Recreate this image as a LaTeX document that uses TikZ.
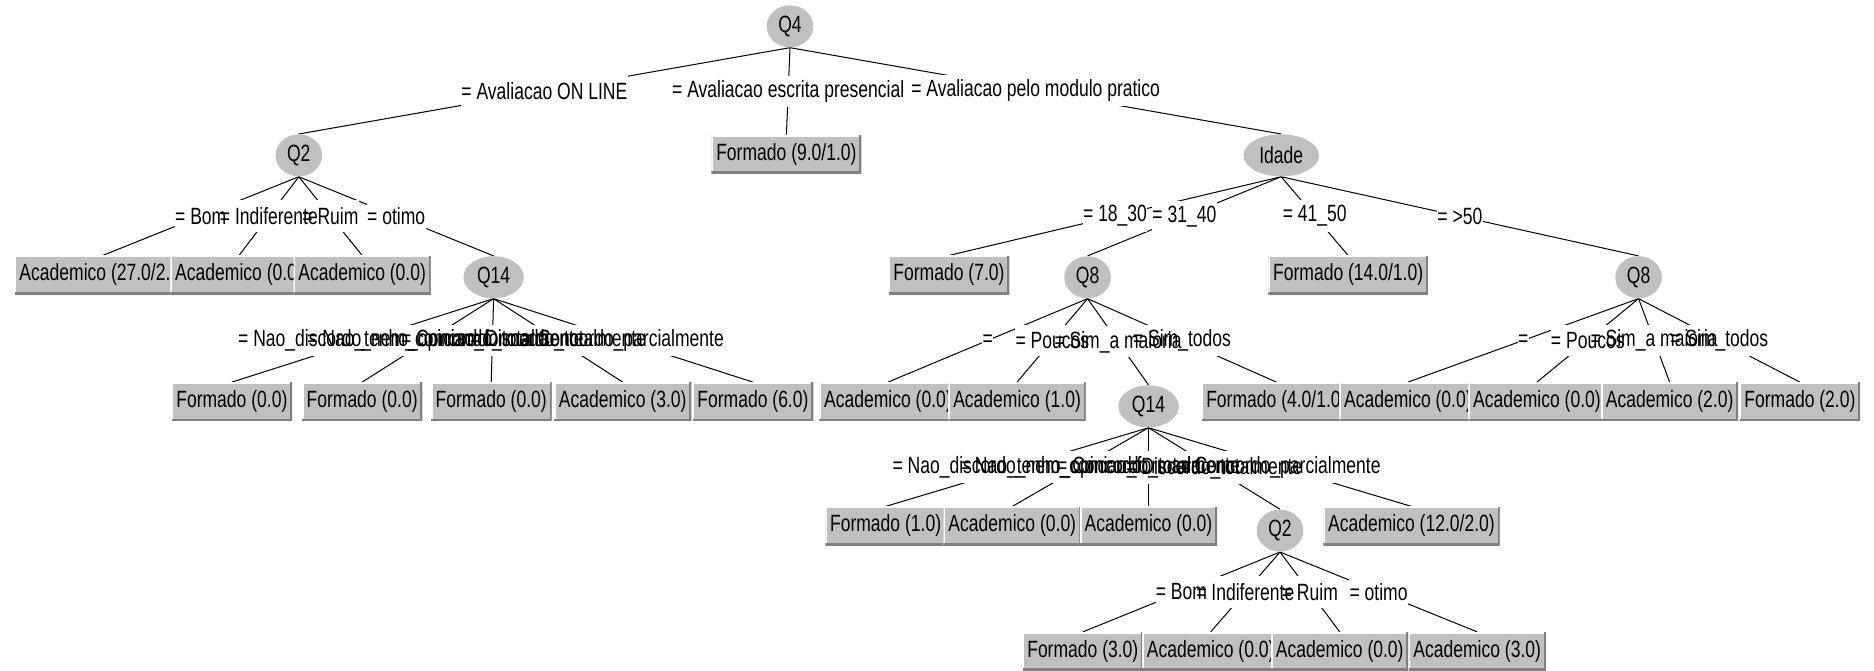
\documentclass[tikz,border=0pt]{standalone}
\usepackage{fontspec}
\newfontfamily\wekafont{Liberation Sans}[FakeStretch=0.745]
\usetikzlibrary{shapes.geometric, calc}
\definecolor{nodegray}{RGB}{192,192,192}
\definecolor{shadegray}{RGB}{128,128,128}
\pgfdeclarelayer{edgelayer}
\pgfdeclarelayer{labelbg}
\pgfsetlayers{edgelayer,labelbg,main}

\begin{document}
\begin{tikzpicture}[
        x=0.025cm, y=-0.025cm,
        font=\wekafont\fontsize{14}{16}\selectfont,
        split/.style={ellipse, fill=nodegray, inner xsep=0.1cm, inner ysep=0pt, minimum height=0.88cm},
        leaf/.style={rectangle, fill=nodegray, inner xsep=0.1cm, inner ysep=0pt, minimum height=0.8cm,
            path picture={
                \draw[white, line width=2pt] (path picture bounding box.south west) -- (path picture bounding box.north west) -- (path picture bounding box.north east);
                \draw[shadegray, line width=2.4pt] (path picture bounding box.south west) -- (path picture bounding box.south east) -- (path picture bounding box.north east);
            }},
        lbl/.style={inner sep=0pt, minimum height=0.64cm},
        edge/.style={line width=0.6pt}
    ]
        \useasboundingbox (0,0) rectangle (1568,561);

        % Split nodes
        \node[split] (q4) at (661,22) {Q4};
        \node[split] (q2) at (250,130) {Q2};
        \node[split] (idade) at (1072,130) {Idade};
        \node[split] (q14) at (413,232) {Q14};
        \node[split] (q8) at (910,232) {Q8};
        \node[split] (q8b) at (1371,232) {Q8};
        \node[split] (q14b) at (961,340) {Q14};
        \node[split] (q2b) at (1071,444) {Q2};

        % Leaves
        \node[leaf] (fmd9) at (658,129) {Formado (9.0/1.0)};

        \node[leaf] (acad27) at (86,230) {Academico (27.0/2.0)};
        \node[leaf] (acadA) at (200,230) {Academico (0.0)};
        \node[leaf] (acadB) at (303,230) {Academico (0.0)};
        \node[leaf] (fmd7) at (794,230) {Formado (7.0)};
        \node[leaf] (fmd14) at (1128,230) {Formado (14.0/1.0)};

        \node[leaf] (fmdA) at (194,336) {Formado (0.0)};
        \node[leaf] (fmdB) at (303,336) {Formado (0.0)};
        \node[leaf] (fmdC) at (411,336) {Formado (0.0)};
        \node[leaf] (acad3) at (521,336) {Academico (3.0)};
        \node[leaf] (fmd6) at (630,336) {Formado (6.0)};
        \node[leaf] (acadC) at (743,336) {Academico (0.0)};
        \node[leaf] (acad1) at (851,336) {Academico (1.0)};
        \node[leaf] (fmd4) at (1068,336) {Formado (4.0/1.0)};
        \node[leaf] (acadD) at (1178,336) {Academico (0.0)};
        \node[leaf] (acadE) at (1286,336) {Academico (0.0)};
        \node[leaf] (acad2) at (1397,336) {Academico (2.0)};
        \node[leaf] (fmd2) at (1506,336) {Formado (2.0)};

        \node[leaf] (fmd1) at (741,440) {Formado (1.0)};
        \node[leaf] (acadF) at (847,440) {Academico (0.0)};
        \node[leaf] (acadG) at (961,440) {Academico (0.0)};
        \node[leaf] (acad12) at (1181,440) {Academico (12.0/2.0)};

        \node[leaf] (fmd3) at (906,545) {Formado (3.0)};
        \node[leaf] (acadH) at (1013,545) {Academico (0.0)};
        \node[leaf] (acadI) at (1121,545) {Academico (0.0)};
        \node[leaf] (acad3b) at (1236,545) {Academico (3.0)};

        % Edges with their labels
        \foreach \a/\b/\t in {
                q4/q2/{= Avaliacao ON LINE}, q4/fmd9/{= Avaliacao escrita presencial}, q4/idade/{= Avaliacao pelo modulo pratico},
                q2/acad27/{= Bom}, q2/acadA/{= Indiferente}, q2/acadB/{= Ruim}, q2/q14/{= otimo},
                q14/fmdA/{= Nao\_discordo\_nem\_concordo}, q14/fmdB/{= Nao\_tenho\_opiniao\_formada}, q14/fmdC/{= Concordo\_totalmente},
                q14/acad3/{= Discordo\_totalmente}, q14/fmd6/{= Concordo\_parcialmente},
                idade/fmd7/{= 18\_30}, idade/q8/{= 31\_40}, idade/fmd14/{= 41\_50}, idade/q8b/{= >50},
                q8/acadC/{=}, q8/acad1/{= Poucos}, q8/q14b/{= Sim\_a maioria}, q8/fmd4/{= Sim\_todos},
                q8b/acadD/{=}, q8b/acadE/{= Poucos}, q8b/acad2/{= Sim\_a maioria}, q8b/fmd2/{= Sim\_todos},
                q14b/fmd1/{= Nao\_discordo\_nem\_concordo}, q14b/acadF/{= Nao\_tenho\_opiniao\_formada}, q14b/acadG/{= Concordo\_totalmente},
                q14b/q2b/{= Discordo\_totalmente}, q14b/acad12/{= Concordo\_parcialmente},
                q2b/fmd3/{= Bom}, q2b/acadH/{= Indiferente}, q2b/acadI/{= Ruim}, q2b/acad3b/{= otimo}} {
            \node[lbl] (l-\b) at ($(\a.south)!0.5!(\b.north)$) {\t};
            \begin{pgfonlayer}{labelbg}
                \fill[white] (l-\b.south west) rectangle (l-\b.north east);
            \end{pgfonlayer}
            \begin{pgfonlayer}{edgelayer}
                \draw[edge] (\a.south) -- (\b.north);
            \end{pgfonlayer}
        }
    \end{tikzpicture}
\end{document}
